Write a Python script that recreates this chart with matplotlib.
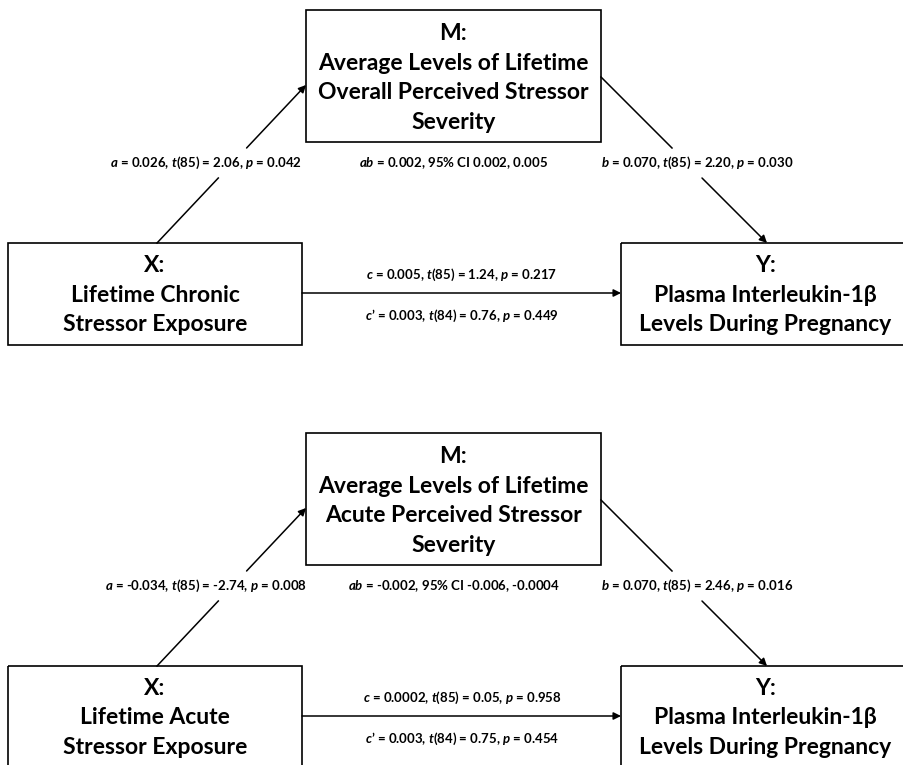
import matplotlib.pyplot as plt
from matplotlib.patches import Rectangle

plt.rcParams['font.family'] = ['Lato', 'DejaVu Sans']
plt.rcParams['mathtext.fontset'] = 'custom'
plt.rcParams['mathtext.it'] = 'Lato:italic:bold'
plt.rcParams['mathtext.rm'] = 'Lato:bold'
plt.rcParams['mathtext.bf'] = 'Lato:bold'

# box labels for each panel
m_labels = ["M:\nAverage Levels of Lifetime\nOverall Perceived Stressor\nSeverity",
            "M:\nAverage Levels of Lifetime\nAcute Perceived Stressor\nSeverity"]
x_labels = ["X:\nLifetime Chronic\nStressor Exposure",
            "X:\nLifetime Acute\nStressor Exposure"]
y_labels = ["Y:\nPlasma Interleukin-1β\nLevels During Pregnancy",
            "Y:\nPlasma Interleukin-1β\nLevels During Pregnancy"]

# path statistics
a_paths = ["$a$ = 0.026, $t$(85) = 2.06, $p$ = 0.042",
           "$a$ = -0.034, $t$(85) = -2.74, $p$ = 0.008"]
ab_paths = ["$ab$ = 0.002, 95% CI 0.002, 0.005",
            "$ab$ = -0.002, 95% CI -0.006, -0.0004"]
b_paths = ["$b$ = 0.070, $t$(85) = 2.20, $p$ = 0.030",
           "$b$ = 0.070, $t$(85) = 2.46, $p$ = 0.016"]
c_paths = ["$c$ = 0.005, $t$(85) = 1.24, $p$ = 0.217",
           "$c$ = 0.0002, $t$(85) = 0.05, $p$ = 0.958"]
cp_paths = ["$c$\u2019 = 0.003, $t$(84) = 0.76, $p$ = 0.449",
            "$c$\u2019 = 0.003, $t$(84) = 0.75, $p$ = 0.454"]

fig = plt.figure(figsize=(9.04, 7.65), dpi=100)
ax = fig.add_axes([0, 0, 1, 1])
ax.set_xlim(0, 904)
ax.set_ylim(765, 0)
ax.axis('off')

box_fs = 16.5
lab_fs = 9.5
lw = 1.1


def box(x0, y0, x1, y1, text, dy=0):
    ax.add_patch(Rectangle((x0, y0), x1 - x0, y1 - y0, fill=False,
                           edgecolor='black', lw=1.2))
    ax.text((x0 + x1) / 2, (y0 + y1) / 2 + dy, text, ha='center', va='center',
            fontsize=box_fs, fontweight='bold', linespacing=1.52)


def seg(p0, p1, arrow=False):
    if arrow:
        ax.annotate('', xy=p1, xytext=p0,
                    arrowprops=dict(arrowstyle='-|>', lw=lw, color='black',
                                    mutation_scale=11, shrinkA=0, shrinkB=0))
    else:
        ax.plot([p0[0], p1[0]], [p0[1], p1[1]], color='black', lw=lw)


def on_line(p0, p1, y):
    t = (p0[1] - y) / (p0[1] - p1[1])
    return (p0[0] + t * (p1[0] - p0[0]), y)


for i in range(2):
    off = 423 * i
    box(306, 10 + off, 601, 142 + off, m_labels[i], dy=2)
    box(8, 243 + off, 302, 345 + off, x_labels[i], dy=1)
    box(621, 243 + off, 910, 345 + off, y_labels[i], dy=1)

    # a path
    a0, a1 = (157, 243 + off), (306, 85 + off)
    seg(a0, on_line(a0, a1, 178 + off))
    seg(on_line(a0, a1, 148 + off), a1, arrow=True)
    # b path
    b0, b1 = (601, 77 + off), (767, 243 + off)
    seg(b0, on_line(b0, b1, 148 + off))
    seg(on_line(b0, b1, 178 + off), b1, arrow=True)
    # c path
    seg((302, 293 + off), (621, 293 + off), arrow=True)

    kw = dict(ha='center', va='center', fontsize=lab_fs, fontweight='bold')
    ax.text(206, 163 + off, a_paths[i], **kw)
    ax.text(454, 163 + off, ab_paths[i], **kw)
    ax.text(697, 163 + off, b_paths[i], **kw)
    ax.text(462, 275 + off, c_paths[i], **kw)
    ax.text(462, 316 + off, cp_paths[i], **kw)

fig.savefig('out.png', dpi=100)
